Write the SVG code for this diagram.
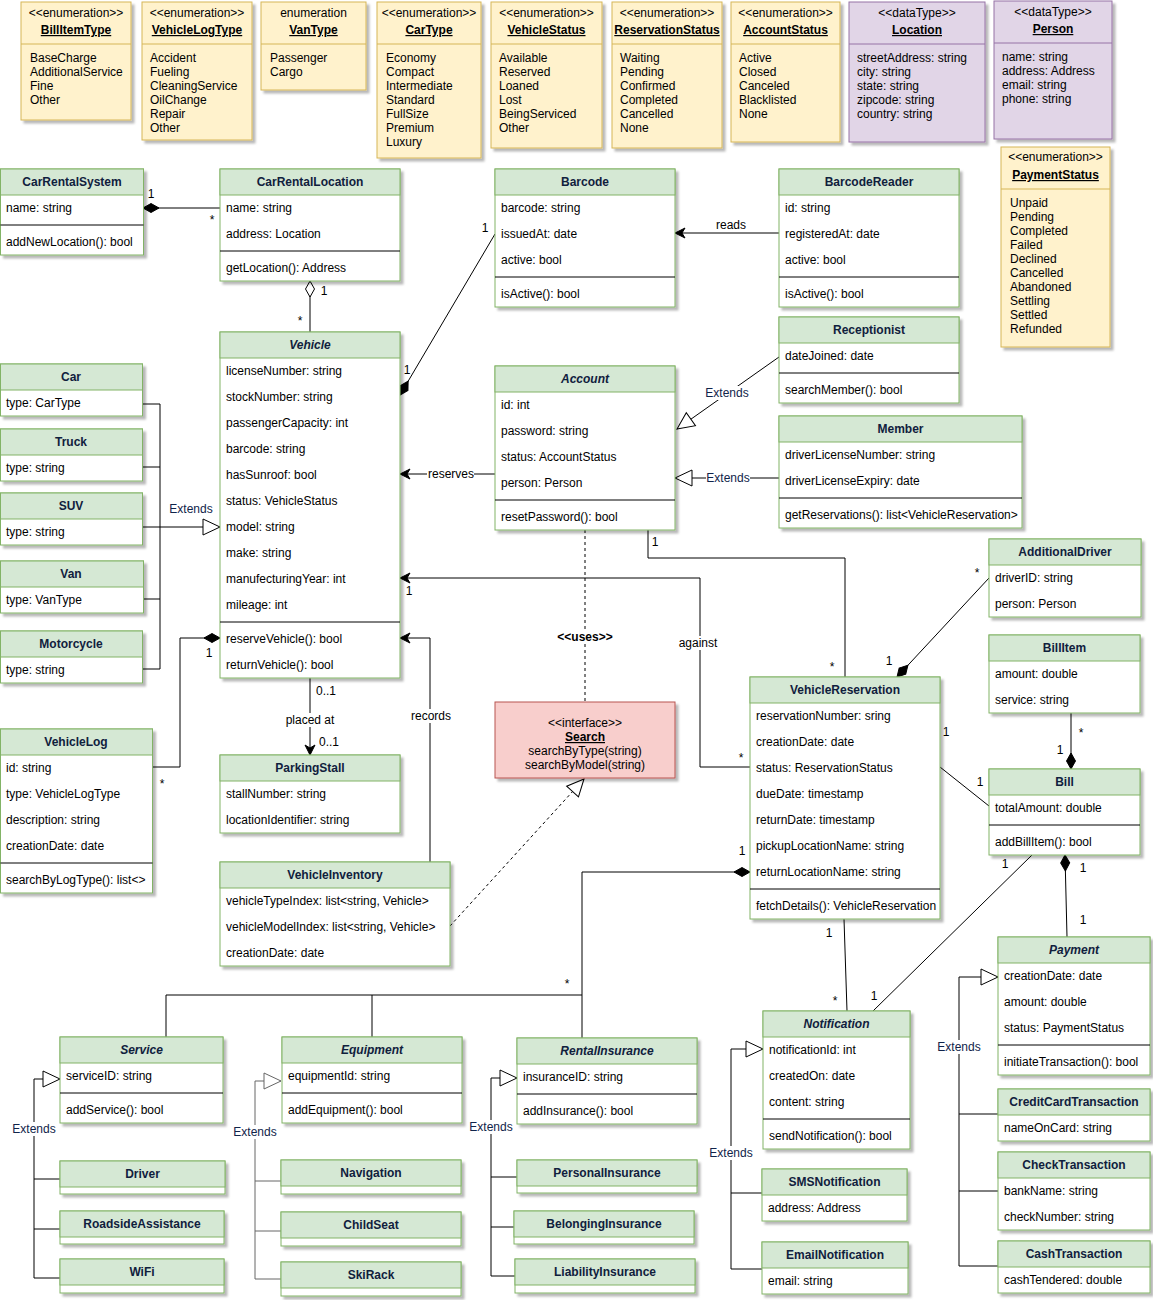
<svg xmlns="http://www.w3.org/2000/svg" width="1153" height="1300" viewBox="0 0 1153 1300">
<defs>
<style>
text{font-family:'Liberation Sans',Arial,Helvetica,sans-serif;font-size:12px;fill:#000}
.box{fill:#fff;stroke:#82b366;stroke-width:1;filter:url(#ds)}
.hd{fill:#d5e8d4;stroke:#82b366;stroke-width:1}
.h{font-weight:bold;fill:#10203d;text-anchor:middle}
.it{font-style:italic}
.sp{stroke:#000;stroke-width:1}
.en{fill:#fff2cc;stroke:#d6b656;stroke-width:1;filter:url(#ds)}
.ens{stroke:#d6b656;stroke-width:1}
.dt{fill:#e1d5e7;stroke:#9673a6;stroke-width:1;filter:url(#ds)}
.dts{stroke:#9673a6;stroke-width:1}
.st{text-anchor:middle}
.nm{text-anchor:middle;font-weight:bold;text-decoration:underline}
.c{fill:none;stroke:#000;stroke-width:1}
.cg{fill:none;stroke:#666;stroke-width:1}
.dash{stroke-dasharray:3 3}
.lb{text-anchor:middle}
.ex{text-anchor:middle;fill:#10244a}
.bg{fill:#fff}
</style>
<filter id="ds" x="-10%" y="-10%" width="130%" height="130%">
<feDropShadow dx="3" dy="3" stdDeviation="1" flood-color="#000" flood-opacity="0.28"/>
</filter>
<marker id="dF" markerUnits="userSpaceOnUse" markerWidth="18" markerHeight="12" viewBox="-1 -6 18 12" refX="0" refY="0" orient="auto"><path d="M0,0 L8,-4.5 L16,0 L8,4.5 Z" fill="#000" stroke="#000"/></marker>
<marker id="dH" markerUnits="userSpaceOnUse" markerWidth="18" markerHeight="12" viewBox="-1 -6 18 12" refX="0" refY="0" orient="auto"><path d="M0,0 L8,-4.5 L16,0 L8,4.5 Z" fill="#fff" stroke="#000"/></marker>
<marker id="ar" markerUnits="userSpaceOnUse" markerWidth="14" markerHeight="12" viewBox="-12 -6 14 12" refX="0" refY="0" orient="auto"><path d="M0,0 L-10,-5 L-7,0 L-10,5 Z" fill="#000" stroke="#000"/></marker>
<marker id="tr" markerUnits="userSpaceOnUse" markerWidth="21" markerHeight="20" viewBox="-19 -10 21 20" refX="0" refY="0" orient="auto"><path d="M0,0 L-17,-8 L-17,8 Z" fill="#fff" stroke="#000"/></marker>
<marker id="trg" markerUnits="userSpaceOnUse" markerWidth="21" markerHeight="20" viewBox="-19 -10 21 20" refX="0" refY="0" orient="auto"><path d="M0,0 L-17,-8 L-17,8 Z" fill="#fff" stroke="#666"/></marker>
</defs>
<rect width="1153" height="1300" fill="#fff"/>

<!-- Enumerations / data types -->
<g id="BillItemType"><rect class="en" x="21" y="2" width="110" height="118"/><line class="ens" x1="21" y1="44" x2="131" y2="44"/><text class="st" x="76" y="17">&lt;&lt;enumeration&gt;&gt;</text><text class="nm" x="76" y="34">BillItemType</text><text x="30" y="62">BaseCharge</text><text x="30" y="76">AdditionalService</text><text x="30" y="90">Fine</text><text x="30" y="104">Other</text></g>
<g id="VehicleLogType"><rect class="en" x="142" y="2" width="110" height="138"/><line class="ens" x1="142" y1="44" x2="252" y2="44"/><text class="st" x="197" y="17">&lt;&lt;enumeration&gt;&gt;</text><text class="nm" x="197" y="34">VehicleLogType</text><text x="150" y="62">Accident</text><text x="150" y="76">Fueling</text><text x="150" y="90">CleaningService</text><text x="150" y="104">OilChange</text><text x="150" y="118">Repair</text><text x="150" y="132">Other</text></g>
<g id="VanType"><rect class="en" x="261" y="2" width="105" height="88"/><line class="ens" x1="261" y1="44" x2="366" y2="44"/><text class="st" x="313.5" y="17">enumeration</text><text class="nm" x="313.5" y="34">VanType</text><text x="270" y="62">Passenger</text><text x="270" y="76">Cargo</text></g>
<g id="CarType"><rect class="en" x="377" y="2" width="104" height="156"/><line class="ens" x1="377" y1="44" x2="481" y2="44"/><text class="st" x="429" y="17">&lt;&lt;enumeration&gt;&gt;</text><text class="nm" x="429" y="34">CarType</text><text x="386" y="62">Economy</text><text x="386" y="76">Compact</text><text x="386" y="90">Intermediate</text><text x="386" y="104">Standard</text><text x="386" y="118">FullSize</text><text x="386" y="132">Premium</text><text x="386" y="146">Luxury</text></g>
<g id="VehicleStatus"><rect class="en" x="491" y="2" width="111" height="146"/><line class="ens" x1="491" y1="44" x2="602" y2="44"/><text class="st" x="546.5" y="17">&lt;&lt;enumeration&gt;&gt;</text><text class="nm" x="546.5" y="34">VehicleStatus</text><text x="499" y="62">Available</text><text x="499" y="76">Reserved</text><text x="499" y="90">Loaned</text><text x="499" y="104">Lost</text><text x="499" y="118">BeingServiced</text><text x="499" y="132">Other</text></g>
<g id="ReservationStatus"><rect class="en" x="612" y="2" width="110" height="146"/><line class="ens" x1="612" y1="44" x2="722" y2="44"/><text class="st" x="667" y="17">&lt;&lt;enumeration&gt;&gt;</text><text class="nm" x="667" y="34">ReservationStatus</text><text x="620" y="62">Waiting</text><text x="620" y="76">Pending</text><text x="620" y="90">Confirmed</text><text x="620" y="104">Completed</text><text x="620" y="118">Cancelled</text><text x="620" y="132">None</text></g>
<g id="AccountStatus"><rect class="en" x="731" y="2" width="109" height="140"/><line class="ens" x1="731" y1="44" x2="840" y2="44"/><text class="st" x="785.5" y="17">&lt;&lt;enumeration&gt;&gt;</text><text class="nm" x="785.5" y="34">AccountStatus</text><text x="739" y="62">Active</text><text x="739" y="76">Closed</text><text x="739" y="90">Canceled</text><text x="739" y="104">Blacklisted</text><text x="739" y="118">None</text></g>
<g id="Location"><rect class="dt" x="849" y="2" width="136" height="140"/><line class="dts" x1="849" y1="44" x2="985" y2="44"/><text class="st" x="917" y="17">&lt;&lt;dataType&gt;&gt;</text><text class="nm" x="917" y="34">Location</text><text x="857" y="62">streetAddress: string</text><text x="857" y="76">city: string</text><text x="857" y="90">state: string</text><text x="857" y="104">zipcode: string</text><text x="857" y="118">country: string</text></g>
<g id="Person"><rect class="dt" x="994" y="1" width="118" height="138"/><line class="dts" x1="994" y1="43" x2="1112" y2="43"/><text class="st" x="1053" y="16">&lt;&lt;dataType&gt;&gt;</text><text class="nm" x="1053" y="33">Person</text><text x="1002" y="61">name: string</text><text x="1002" y="75">address: Address</text><text x="1002" y="89">email: string</text><text x="1002" y="103">phone: string</text></g>
<g id="PaymentStatus"><rect class="en" x="1001" y="147" width="109" height="200"/><line class="ens" x1="1001" y1="189" x2="1110" y2="189"/><text class="st" x="1055.5" y="161">&lt;&lt;enumeration&gt;&gt;</text><text class="nm" x="1055.5" y="179">PaymentStatus</text><text x="1010" y="207">Unpaid</text><text x="1010" y="221">Pending</text><text x="1010" y="235">Completed</text><text x="1010" y="249">Failed</text><text x="1010" y="263">Declined</text><text x="1010" y="277">Cancelled</text><text x="1010" y="291">Abandoned</text><text x="1010" y="305">Settling</text><text x="1010" y="319">Settled</text><text x="1010" y="333">Refunded</text></g>

<!-- Connectors -->
<g id="connectors">
<path class="c" d="M143,208 L220,208" marker-start="url(#dF)"/>
<text class="lb" x="151" y="198">1</text><text class="lb" x="212" y="224">*</text>
<path class="c" d="M310,281 L310,332" marker-start="url(#dH)"/>
<text class="lb" x="324" y="295">1</text><text class="lb" x="300" y="325">*</text>
<path class="c" d="M400,395 L495,234" marker-start="url(#dF)"/>
<text class="lb" x="407" y="374">1</text><text class="lb" x="485" y="232">1</text>
<path class="c" d="M779,233 L675,233" marker-end="url(#ar)"/>
<text class="lb" x="731" y="229">reads</text>
<path class="c" d="M779,357 L677,429" marker-end="url(#tr)"/>
<rect class="bg" x="705" y="386" width="44" height="14"/><text class="ex" x="727" y="397">Extends</text>
<path class="c" d="M779,478 L675,478" marker-end="url(#tr)"/>
<rect class="bg" x="706" y="471" width="44" height="14"/><text class="ex" x="728" y="482">Extends</text>
<path class="c" d="M495,474 L400,474" marker-end="url(#ar)"/>
<rect class="bg" x="427" y="467" width="47" height="14"/><text class="lb" x="451" y="478">reserves</text>
<path class="c" d="M648,530 L648,558 L845,558 L845,677"/>
<text class="lb" x="655" y="546">1</text><text class="lb" x="832" y="671">*</text>
<path class="c" d="M750,767 L700,767 L700,578 L400,578" marker-end="url(#ar)"/>
<rect class="bg" x="677" y="636" width="44" height="14"/><text class="lb" x="698" y="647">against</text>
<text class="lb" x="741" y="762">*</text><text class="lb" x="409" y="595">1</text>
<path class="c dash" d="M585,530 L585,702"/>
<rect class="bg" x="556" y="630" width="58" height="14"/><text class="lb" x="585" y="641" font-weight="bold">&lt;&lt;uses&gt;&gt;</text>
<path class="c dash" d="M450,926 L584,779" marker-end="url(#tr)"/>
<path class="c" d="M430,862 L430,638 L400,638" marker-end="url(#ar)"/>
<rect class="bg" x="409" y="709" width="43" height="14"/><text class="lb" x="431" y="720">records</text>
<path class="c" d="M310,678 L310,755" marker-end="url(#ar)"/>
<text class="lb" x="326" y="695">0..1</text>
<rect class="bg" x="284" y="713" width="52" height="14"/><text class="lb" x="310" y="724">placed at</text>
<text class="lb" x="329" y="746">0..1</text>
<path class="c" d="M220,638 L180,638 L180,767 L152,767" marker-start="url(#dF)"/>
<text class="lb" x="209" y="657">1</text><text class="lb" x="162" y="788">*</text>
<path class="c" d="M897,677 L989,578" marker-start="url(#dF)"/>
<text class="lb" x="889" y="665">1</text><text class="lb" x="977" y="577">*</text>
<path class="c" d="M940,767 L989,806"/>
<text class="lb" x="946" y="736">1</text><text class="lb" x="980" y="786">1</text>
<path class="c" d="M1071,769 L1071,713" marker-start="url(#dF)"/>
<text class="lb" x="1081" y="737">*</text><text class="lb" x="1060" y="754">1</text>
<path class="c" d="M1065,855 L1067,937" marker-start="url(#dF)"/>
<text class="lb" x="1083" y="872">1</text><text class="lb" x="1083" y="924">1</text>
<path class="c" d="M1032,855 L873,1011"/>
<text class="lb" x="1005" y="868">1</text><text class="lb" x="874" y="1000">1</text>
<path class="c" d="M844,919 L847,1011"/>
<text class="lb" x="829" y="937">1</text><text class="lb" x="835" y="1005">*</text>
<path class="c" d="M750,872 L582,872 L582,1038" marker-start="url(#dF)"/>
<path class="c" d="M582,995 L166,995 L166,1037 M372,995 L372,1037"/>
<text class="lb" x="742" y="855">1</text><text class="lb" x="567" y="988">*</text>
<!-- Vehicle subclasses -->
<path class="c" d="M143,404 L160,404 M143,467 L160,467 M143,599 L160,599 M143,669 L160,669 M160,404 L160,669"/>
<path class="c" d="M143,527 L220,527" marker-end="url(#tr)"/>
<text class="ex" x="191" y="513">Extends</text>
<!-- Service subclasses -->
<path class="c" d="M60,1179 L34,1179 L34,1079 L60,1079" marker-end="url(#tr)"/>
<path class="c" d="M34,1179 L34,1278 L60,1278 M34,1229 L60,1229"/>
<rect class="bg" x="12" y="1122" width="44" height="14"/><text class="ex" x="34" y="1133">Extends</text>
<!-- Equipment subclasses -->
<path class="cg" d="M281,1181 L255,1181 L255,1081 L281,1081" marker-end="url(#trg)"/>
<path class="cg" d="M255,1181 L255,1279 L281,1279 M255,1231 L281,1231"/>
<rect class="bg" x="233" y="1125" width="44" height="14"/><text class="ex" x="255" y="1136">Extends</text>
<!-- Insurance subclasses -->
<path class="c" d="M517,1177 L491,1177 L491,1078 L517,1078" marker-end="url(#tr)"/>
<path class="c" d="M491,1177 L491,1276 L515,1276 M491,1227 L514,1227"/>
<rect class="bg" x="469" y="1120" width="44" height="14"/><text class="ex" x="491" y="1131">Extends</text>
<!-- Notification subclasses -->
<path class="c" d="M762,1193 L731,1193 L731,1049 L763,1049" marker-end="url(#tr)"/>
<path class="c" d="M731,1193 L731,1269 L762,1269"/>
<rect class="bg" x="709" y="1146" width="44" height="14"/><text class="ex" x="731" y="1157">Extends</text>
<!-- Payment subclasses -->
<path class="c" d="M998,1114 L959,1114 L959,977 L998,977" marker-end="url(#tr)"/>
<path class="c" d="M959,1114 L959,1266 L998,1266 M959,1191 L998,1191"/>
<rect class="bg" x="937" y="1040" width="44" height="14"/><text class="ex" x="959" y="1051">Extends</text>
</g>

<!-- Classes -->
<g id="CarRentalSystem"><rect class="box" x="0.5" y="169" width="143" height="86"/><rect class="hd" x="0.5" y="169" width="143" height="26"/><text class="h" x="72" y="186">CarRentalSystem</text><text x="6" y="212">name: string</text><line class="sp" x1="0.5" y1="225" x2="143.5" y2="225"/><text x="6" y="246">addNewLocation(): bool</text></g>
<g id="CarRentalLocation"><rect class="box" x="220" y="169" width="180" height="112"/><rect class="hd" x="220" y="169" width="180" height="26"/><text class="h" x="310" y="186">CarRentalLocation</text><text x="226" y="212">name: string</text><text x="226" y="238">address: Location</text><line class="sp" x1="220" y1="251" x2="400" y2="251"/><text x="226" y="272">getLocation(): Address</text></g>
<g id="Barcode"><rect class="box" x="495" y="169" width="180" height="138"/><rect class="hd" x="495" y="169" width="180" height="26"/><text class="h" x="585" y="186">Barcode</text><text x="501" y="212">barcode: string</text><text x="501" y="238">issuedAt: date</text><text x="501" y="264">active: bool</text><line class="sp" x1="495" y1="277" x2="675" y2="277"/><text x="501" y="298">isActive(): bool</text></g>
<g id="BarcodeReader"><rect class="box" x="779" y="169" width="180" height="138"/><rect class="hd" x="779" y="169" width="180" height="26"/><text class="h" x="869" y="186">BarcodeReader</text><text x="785" y="212">id: string</text><text x="785" y="238">registeredAt: date</text><text x="785" y="264">active: bool</text><line class="sp" x1="779" y1="277" x2="959" y2="277"/><text x="785" y="298">isActive(): bool</text></g>
<g id="Receptionist"><rect class="box" x="779" y="317" width="180" height="86"/><rect class="hd" x="779" y="317" width="180" height="26"/><text class="h" x="869" y="334">Receptionist</text><text x="785" y="360">dateJoined: date</text><line class="sp" x1="779" y1="373" x2="959" y2="373"/><text x="785" y="394">searchMember(): bool</text></g>
<g id="Member"><rect class="box" x="779" y="416" width="243" height="112"/><rect class="hd" x="779" y="416" width="243" height="26"/><text class="h" x="900.5" y="433">Member</text><text x="785" y="459">driverLicenseNumber: string</text><text x="785" y="485">driverLicenseExpiry: date</text><line class="sp" x1="779" y1="498" x2="1022" y2="498"/><text x="785" y="519">getReservations(): list&lt;VehicleReservation&gt;</text></g>
<g id="Account"><rect class="box" x="495" y="366" width="180" height="164"/><rect class="hd" x="495" y="366" width="180" height="26"/><text class="h it" x="585" y="383">Account</text><text x="501" y="409">id: int</text><text x="501" y="435">password: string</text><text x="501" y="461">status: AccountStatus</text><text x="501" y="487">person: Person</text><line class="sp" x1="495" y1="500" x2="675" y2="500"/><text x="501" y="521">resetPassword(): bool</text></g>
<g id="Vehicle"><rect class="box" x="220" y="332" width="180" height="346"/><rect class="hd" x="220" y="332" width="180" height="26"/><text class="h it" x="310" y="349">Vehicle</text><text x="226" y="375">licenseNumber: string</text><text x="226" y="401">stockNumber: string</text><text x="226" y="427">passengerCapacity: int</text><text x="226" y="453">barcode: string</text><text x="226" y="479">hasSunroof: bool</text><text x="226" y="505">status: VehicleStatus</text><text x="226" y="531">model: string</text><text x="226" y="557">make: string</text><text x="226" y="583">manufecturingYear: int</text><text x="226" y="609">mileage: int</text><line class="sp" x1="220" y1="622" x2="400" y2="622"/><text x="226" y="643">reserveVehicle(): bool</text><text x="226" y="669">returnVehicle(): bool</text></g>
<g id="Car"><rect class="box" x="0.5" y="364" width="142" height="52"/><rect class="hd" x="0.5" y="364" width="142" height="26"/><text class="h" x="71" y="381">Car</text><text x="6" y="407">type: CarType</text></g>
<g id="Truck"><rect class="box" x="0.5" y="429" width="142" height="52"/><rect class="hd" x="0.5" y="429" width="142" height="26"/><text class="h" x="71" y="446">Truck</text><text x="6" y="472">type: string</text></g>
<g id="SUV"><rect class="box" x="0.5" y="493" width="142" height="52"/><rect class="hd" x="0.5" y="493" width="142" height="26"/><text class="h" x="71" y="510">SUV</text><text x="6" y="536">type: string</text></g>
<g id="Van"><rect class="box" x="0.5" y="561" width="143" height="52"/><rect class="hd" x="0.5" y="561" width="143" height="26"/><text class="h" x="71" y="578">Van</text><text x="6" y="604">type: VanType</text></g>
<g id="Motorcycle"><rect class="box" x="0.5" y="631" width="142" height="52"/><rect class="hd" x="0.5" y="631" width="142" height="26"/><text class="h" x="71" y="648">Motorcycle</text><text x="6" y="674">type: string</text></g>
<g id="VehicleLog"><rect class="box" x="0.5" y="729" width="152" height="164"/><rect class="hd" x="0.5" y="729" width="152" height="26"/><text class="h" x="76" y="746">VehicleLog</text><text x="6" y="772">id: string</text><text x="6" y="798">type: VehicleLogType</text><text x="6" y="824">description: string</text><text x="6" y="850">creationDate: date</text><line class="sp" x1="0.5" y1="863" x2="152.5" y2="863"/><text x="6" y="884">searchByLogType(): list&lt;&gt;</text></g>
<g id="ParkingStall"><rect class="box" x="220" y="755" width="180" height="78"/><rect class="hd" x="220" y="755" width="180" height="26"/><text class="h" x="310" y="772">ParkingStall</text><text x="226" y="798">stallNumber: string</text><text x="226" y="824">locationIdentifier: string</text></g>
<g id="VehicleInventory"><rect class="box" x="220" y="862" width="230" height="104"/><rect class="hd" x="220" y="862" width="230" height="26"/><text class="h" x="335" y="879">VehicleInventory</text><text x="226" y="905">vehicleTypeIndex: list&lt;string, Vehicle&gt;</text><text x="226" y="931">vehicleModelIndex: list&lt;string, Vehicle&gt;</text><text x="226" y="957">creationDate: date</text></g>
<g id="Search"><rect x="495" y="702" width="180" height="76" fill="#f8cecc" stroke="#b85450" filter="url(#ds)"/><text class="st" x="585" y="727">&lt;&lt;interface&gt;&gt;</text><text class="nm" x="585" y="741">Search</text><text class="st" x="585" y="755">searchByType(string)</text><text class="st" x="585" y="769">searchByModel(string)</text></g>
<g id="VehicleReservation"><rect class="box" x="750" y="677" width="190" height="242"/><rect class="hd" x="750" y="677" width="190" height="26"/><text class="h" x="845" y="694">VehicleReservation</text><text x="756" y="720">reservationNumber: sring</text><text x="756" y="746">creationDate: date</text><text x="756" y="772">status: ReservationStatus</text><text x="756" y="798">dueDate: timestamp</text><text x="756" y="824">returnDate: timestamp</text><text x="756" y="850">pickupLocationName: string</text><text x="756" y="876">returnLocationName: string</text><line class="sp" x1="750" y1="889" x2="940" y2="889"/><text x="756" y="910">fetchDetails(): VehicleReservation</text></g>
<g id="AdditionalDriver"><rect class="box" x="989" y="539" width="152" height="78"/><rect class="hd" x="989" y="539" width="152" height="26"/><text class="h" x="1065" y="556">AdditionalDriver</text><text x="995" y="582">driverID: string</text><text x="995" y="608">person: Person</text></g>
<g id="BillItem"><rect class="box" x="989" y="635" width="151" height="78"/><rect class="hd" x="989" y="635" width="151" height="26"/><text class="h" x="1064.5" y="652">BillItem</text><text x="995" y="678">amount: double</text><text x="995" y="704">service: string</text></g>
<g id="Bill"><rect class="box" x="989" y="769" width="151" height="86"/><rect class="hd" x="989" y="769" width="151" height="26"/><text class="h" x="1064.5" y="786">Bill</text><text x="995" y="812">totalAmount: double</text><line class="sp" x1="989" y1="825" x2="1140" y2="825"/><text x="995" y="846">addBillItem(): bool</text></g>
<g id="Payment"><rect class="box" x="998" y="937" width="152" height="138"/><rect class="hd" x="998" y="937" width="152" height="26"/><text class="h it" x="1074" y="954">Payment</text><text x="1004" y="980">creationDate: date</text><text x="1004" y="1006">amount: double</text><text x="1004" y="1032">status: PaymentStatus</text><line class="sp" x1="998" y1="1045" x2="1150" y2="1045"/><text x="1004" y="1066">initiateTransaction(): bool</text></g>
<g id="CreditCardTransaction"><rect class="box" x="998" y="1089" width="152" height="52"/><rect class="hd" x="998" y="1089" width="152" height="26"/><text class="h" x="1074" y="1106">CreditCardTransaction</text><text x="1004" y="1132">nameOnCard: string</text></g>
<g id="CheckTransaction"><rect class="box" x="998" y="1152" width="152" height="78"/><rect class="hd" x="998" y="1152" width="152" height="26"/><text class="h" x="1074" y="1169">CheckTransaction</text><text x="1004" y="1195">bankName: string</text><text x="1004" y="1221">checkNumber: string</text></g>
<g id="CashTransaction"><rect class="box" x="998" y="1241" width="152" height="52"/><rect class="hd" x="998" y="1241" width="152" height="26"/><text class="h" x="1074" y="1258">CashTransaction</text><text x="1004" y="1284">cashTendered: double</text></g>
<g id="Notification"><rect class="box" x="763" y="1011" width="147" height="138"/><rect class="hd" x="763" y="1011" width="147" height="26"/><text class="h it" x="836.5" y="1028">Notification</text><text x="769" y="1054">notificationId: int</text><text x="769" y="1080">createdOn: date</text><text x="769" y="1106">content: string</text><line class="sp" x1="763" y1="1119" x2="910" y2="1119"/><text x="769" y="1140">sendNotification(): bool</text></g>
<g id="SMSNotification"><rect class="box" x="762" y="1169" width="145" height="52"/><rect class="hd" x="762" y="1169" width="145" height="26"/><text class="h" x="834.5" y="1186">SMSNotification</text><text x="768" y="1212">address: Address</text></g>
<g id="EmailNotification"><rect class="box" x="762" y="1242" width="146" height="52"/><rect class="hd" x="762" y="1242" width="146" height="26"/><text class="h" x="835" y="1259">EmailNotification</text><text x="768" y="1285">email: string</text></g>
<g id="Service"><rect class="box" x="60" y="1037" width="163" height="86"/><rect class="hd" x="60" y="1037" width="163" height="26"/><text class="h it" x="141.5" y="1054">Service</text><text x="66" y="1080">serviceID: string</text><line class="sp" x1="60" y1="1093" x2="223" y2="1093"/><text x="66" y="1114">addService(): bool</text></g>
<g id="Driver"><rect class="box" x="60" y="1161" width="165" height="33"/><rect class="hd" x="60" y="1161" width="165" height="26"/><text class="h" x="142.5" y="1178">Driver</text></g>
<g id="RoadsideAssistance"><rect class="box" x="60" y="1211" width="164" height="33"/><rect class="hd" x="60" y="1211" width="164" height="26"/><text class="h" x="142" y="1228">RoadsideAssistance</text></g>
<g id="WiFi"><rect class="box" x="60" y="1259" width="164" height="34"/><rect class="hd" x="60" y="1259" width="164" height="26"/><text class="h" x="142" y="1276">WiFi</text></g>
<g id="Equipment"><rect class="box" x="282" y="1037" width="180" height="86"/><rect class="hd" x="282" y="1037" width="180" height="26"/><text class="h it" x="372" y="1054">Equipment</text><text x="288" y="1080">equipmentId: string</text><line class="sp" x1="282" y1="1093" x2="462" y2="1093"/><text x="288" y="1114">addEquipment(): bool</text></g>
<g id="Navigation"><rect class="box" x="281" y="1160" width="180" height="34"/><rect class="hd" x="281" y="1160" width="180" height="26"/><text class="h" x="371" y="1177">Navigation</text></g>
<g id="ChildSeat"><rect class="box" x="281" y="1212" width="180" height="34"/><rect class="hd" x="281" y="1212" width="180" height="26"/><text class="h" x="371" y="1229">ChildSeat</text></g>
<g id="SkiRack"><rect class="box" x="281" y="1262" width="180" height="34"/><rect class="hd" x="281" y="1262" width="180" height="26"/><text class="h" x="371" y="1279">SkiRack</text></g>
<g id="RentalInsurance"><rect class="box" x="517" y="1038" width="180" height="86"/><rect class="hd" x="517" y="1038" width="180" height="26"/><text class="h it" x="607" y="1055">RentalInsurance</text><text x="523" y="1081">insuranceID: string</text><line class="sp" x1="517" y1="1094" x2="697" y2="1094"/><text x="523" y="1115">addInsurance(): bool</text></g>
<g id="PersonalInsurance"><rect class="box" x="517" y="1160" width="180" height="33"/><rect class="hd" x="517" y="1160" width="180" height="26"/><text class="h" x="607" y="1177">PersonalInsurance</text></g>
<g id="BelongingInsurance"><rect class="box" x="514" y="1211" width="180" height="33"/><rect class="hd" x="514" y="1211" width="180" height="26"/><text class="h" x="604" y="1228">BelongingInsurance</text></g>
<g id="LiabilityInsurance"><rect class="box" x="515" y="1259" width="180" height="34"/><rect class="hd" x="515" y="1259" width="180" height="26"/><text class="h" x="605" y="1276">LiabilityInsurance</text></g>
</svg>
